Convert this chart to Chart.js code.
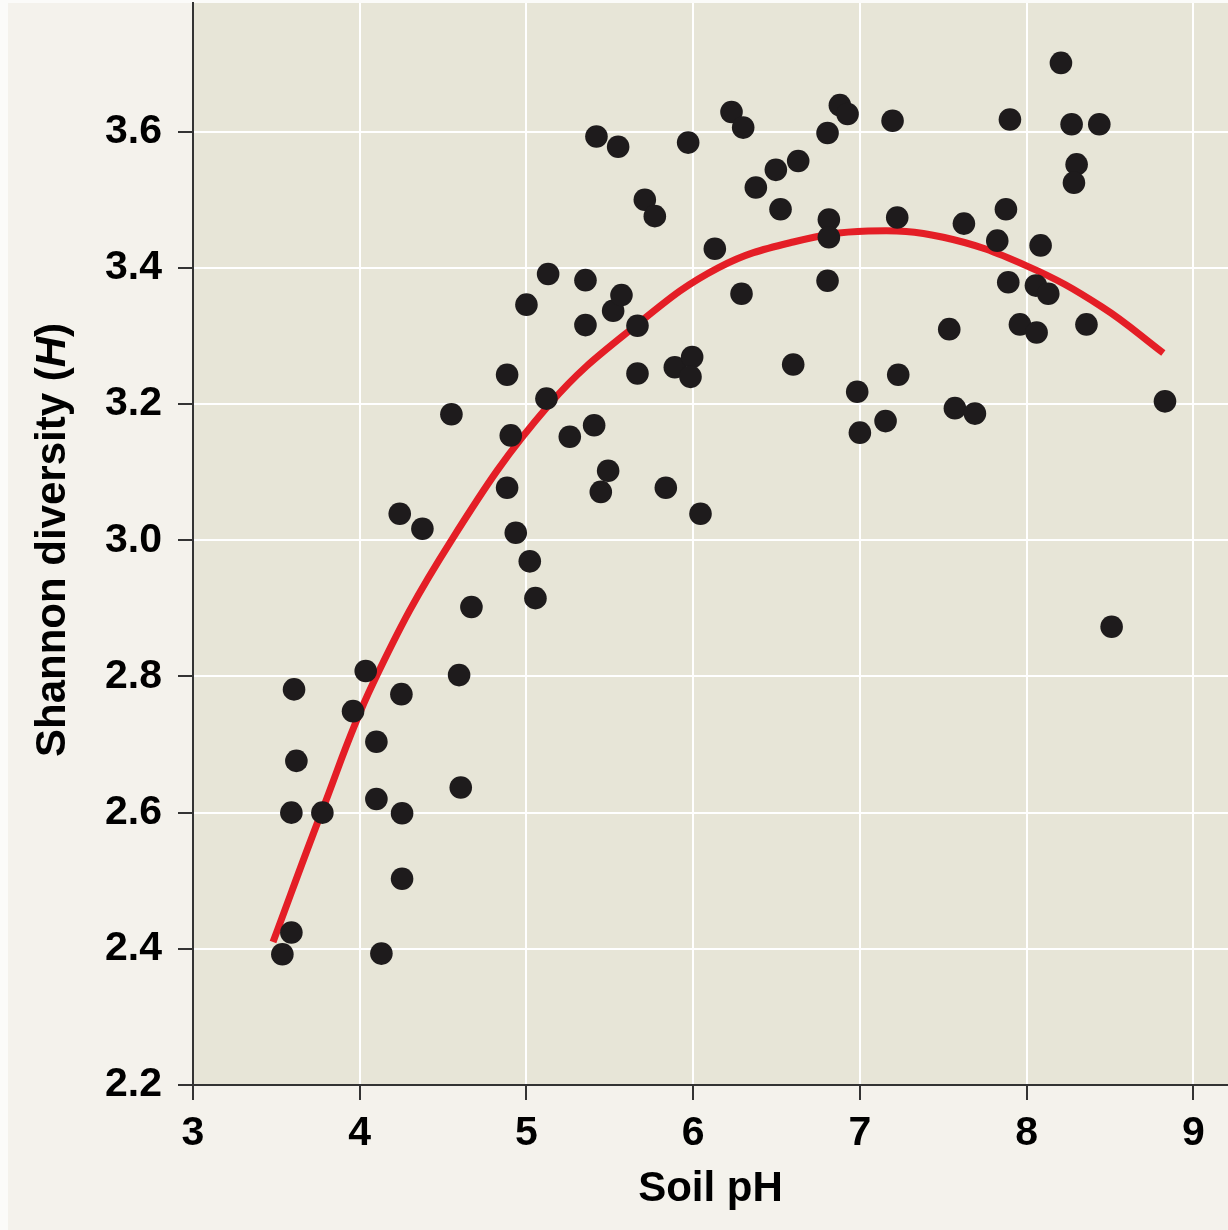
<!DOCTYPE html>
<html>
<head>
<meta charset="utf-8">
<title>Shannon diversity vs soil pH</title>
<script src="https://cdn.jsdelivr.net/npm/chart.js@4.4.1/dist/chart.umd.min.js"></script>
<style>
    html, body { margin: 0; padding: 0; background: #f4f2ec; overflow: hidden; }
    #wrap { position: relative; width: 1228px; height: 1230px; }
</style>
</head>
<body>
<div id="wrap"><canvas id="chart"></canvas></div>
<script>
// ── Data ─────────────────────────────────────────────────────────
const phValues = [
    3.536, 3.590, 3.606, 3.590, 3.620, 3.776, 3.960, 4.036, 4.100, 4.100,
    4.130, 4.250, 4.254, 4.254, 4.240, 4.376, 4.550, 4.596, 4.606, 4.670,
    4.884, 4.884, 4.906, 4.936, 5.000, 5.020, 5.054, 5.130, 5.120, 5.260,
    5.354, 5.354, 5.406, 5.420, 5.446, 5.490, 5.550, 5.520, 5.570, 5.666,
    5.666, 5.710, 5.770, 5.836, 5.890, 5.970, 5.994, 5.984, 6.044, 6.130,
    6.230, 6.300, 6.290, 6.376, 6.496, 6.524, 6.600, 6.630, 6.806, 6.814,
    6.814, 6.806, 6.880, 6.926, 6.984, 7.000, 7.154, 7.196, 7.224, 7.230,
    7.536, 7.570, 7.624, 7.690, 7.824, 7.876, 7.900, 7.890, 7.960, 8.056,
    8.084, 8.060, 8.130, 8.206, 8.270, 8.300, 8.284, 8.359, 8.436, 8.510, 8.830
];
const shannonValues = [
    2.392, 2.424, 2.781, 2.600, 2.676, 2.600, 2.749, 2.808, 2.704, 2.620,
    2.393, 2.774, 2.599, 2.503, 3.039, 3.017, 3.185, 2.802, 2.637, 2.902,
    3.243, 3.077, 3.154, 3.011, 3.346, 2.969, 2.915, 3.391, 3.208, 3.152,
    3.382, 3.316, 3.169, 3.593, 3.071, 3.102, 3.578, 3.337, 3.360, 3.315,
    3.245, 3.500, 3.476, 3.077, 3.254, 3.584, 3.269, 3.240, 3.039, 3.428,
    3.629, 3.606, 3.362, 3.518, 3.544, 3.486, 3.258, 3.557, 3.598, 3.471,
    3.445, 3.381, 3.639, 3.626, 3.218, 3.158, 3.175, 3.616, 3.474, 3.243,
    3.310, 3.194, 3.465, 3.186, 3.440, 3.486, 3.618, 3.379, 3.317, 3.374,
    3.433, 3.305, 3.362, 3.701, 3.611, 3.552, 3.525, 3.317, 3.611, 2.873, 3.204
];

// fitted curve
const fitPh = [3.48, 3.77, 4.08, 4.55, 5.14, 5.68, 6.15, 6.60, 7.05, 7.50, 8.00, 8.45, 8.82];
const fitH  = [2.410, 2.600, 2.790, 3.000, 3.200, 3.320, 3.400, 3.438, 3.454, 3.445, 3.403, 3.343, 3.275];

const xTicks = [3, 4, 5, 6, 7, 8, 9];
const yTicks = [2.2, 2.4, 2.6, 2.8, 3.0, 3.2, 3.4, 3.6];

const FONT = "'Liberation Sans', Arial, Helvetica, sans-serif";
const INK  = "#333333";

// ── Background: page, thin white edge, plot panel ─────────────────
const backdrop = {
    id: "backdrop",
    beforeDraw(chart) {
        const { ctx, chartArea: a, width, height } = chart;
        ctx.save();
        ctx.fillStyle = "#f4f2ec";
        ctx.fillRect(0, 0, width, height);
        ctx.fillStyle = "#fbfbf9";
        ctx.fillRect(0, 0, 8, height);
        ctx.fillRect(0, 0, width, 3);
        ctx.fillStyle = "#e7e5d7";
        ctx.fillRect(a.left, a.top, a.right - a.left, a.bottom - a.top);
        ctx.restore();
    }
};

// ── Y axis title with italic H ───────────────────────────────────
const yTitle = {
    id: "yTitle",
    afterDraw(chart) {
        const { ctx, chartArea: a } = chart;
        const parts = [
            { t: "Shannon diversity (", f: `bold 42px ${FONT}` },
            { t: "H",                   f: `italic bold 42px ${FONT}` },
            { t: ")",                   f: `bold 42px ${FONT}` }
        ];
        ctx.save();
        let total = 0;
        parts.forEach(p => { ctx.font = p.f; p.w = ctx.measureText(p.t).width; total += p.w; });
        ctx.translate(65, (a.top + a.bottom) / 2 - 4);
        ctx.rotate(-Math.PI / 2);
        ctx.fillStyle = "#000";
        ctx.textBaseline = "alphabetic";
        ctx.textAlign = "left";
        let x = -total / 2;
        parts.forEach(p => { ctx.font = p.f; ctx.fillText(p.t, x, 0); x += p.w; });
        ctx.restore();
    }
};

new Chart(document.getElementById("chart"), {
    type: "scatter",
    data: {
        datasets: [
            {
                label: "Samples",
                data: phValues.map((x, i) => ({ x, y: shannonValues[i] })),
                backgroundColor: "#1e1b1c",
                borderWidth: 0,
                pointRadius: 11.3,
                pointHoverRadius: 11.3,
                order: 1
            },
            {
                label: "Fit",
                type: "line",
                data: fitPh.map((x, i) => ({ x, y: fitH[i] })),
                borderColor: "#e41e26",
                borderWidth: 7,
                borderCapStyle: "butt",
                pointRadius: 0,
                fill: false,
                tension: 0.4,
                order: 2
            }
        ]
    },
    options: {
        responsive: true, maintainAspectRatio: false,
        animation: false,
        layout: { padding: { top: 3, right: 0, left: 0, bottom: 0 }, autoPadding: false },
        plugins: { legend: { display: false }, tooltip: { enabled: false } },
        scales: {
            x: {
                type: "linear", min: 3, max: 9.208,
                afterBuildTicks: s => { s.ticks = xTicks.map(v => ({ value: v })); },
                afterFit: s => { s.height = 145; s.paddingLeft = 0; s.paddingRight = 0; },
                grid: { color: "#ffffff", lineWidth: 2, tickColor: INK, tickWidth: 2, tickLength: 15 },
                border: { color: INK, width: 2 },
                ticks: {
                    color: "#000", padding: 9, maxRotation: 0, autoSkip: false,
                    font: { family: FONT, size: 41, weight: "bold" },
                    callback: v => String(v)
                },
                title: {
                    display: true, text: "Soil pH", color: "#000",
                    font: { family: FONT, size: 42, weight: "bold" },
                    padding: { top: 0, bottom: 15 }
                }
            },
            y: {
                type: "linear", min: 2.2, max: 3.789,
                afterBuildTicks: s => { s.ticks = yTicks.map(v => ({ value: v })); },
                afterFit: s => { s.width = 193; s.paddingTop = 0; s.paddingBottom = 0; },
                grid: { color: "#ffffff", lineWidth: 2, tickColor: INK, tickWidth: 2, tickLength: 15 },
                border: { color: INK, width: 2 },
                ticks: {
                    color: "#000", padding: 16,
                    font: { family: FONT, size: 41, weight: "bold" },
                    callback: v => Number(v).toFixed(1)
                }
            }
        }
    },
    plugins: [backdrop, yTitle]
});
</script>
</body>
</html>
